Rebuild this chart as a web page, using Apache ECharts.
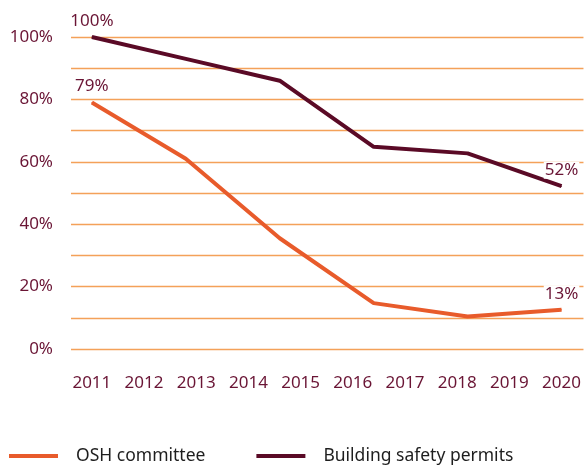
<!DOCTYPE html>
<html>
<head>
<meta charset="utf-8">
<script src="https://cdn.jsdelivr.net/npm/echarts@6/dist/echarts.min.js"></script>
<style>html,body{margin:0;padding:0;background:#fff}#c{width:584px;height:475px}</style>
</head>
<body>
<div id="c"></div>
<script>
const yearLabels = [2011, 2012, 2013, 2014, 2015, 2016, 2017, 2018, 2019, 2020];
const pointYears = [2011, 2012.8, 2014.6, 2016.4, 2018.2, 2020];
const oshCommittee = [79, 61, 35.5, 14.7, 10.4, 12.6];
const buildingPermits = [100, 93, 86, 64.8, 62.7, 52.2];
const yTickLabels = [0, 20, 40, 60, 80, 100];
const seriesNames = ['OSH committee', 'Building safety permits'];

const FONT = "'Noto Sans', sans-serif";
const MAROON = '#6a1535';
const ORANGE = '#e85b2b';
const DARK = '#5a0a26';

function build(values) {
  return values.map((v, i) => {
    const item = { value: [pointYears[i], v] };
    if (i === 0 || i === values.length - 1) {
      item.label = { show: true };
    }
    return item;
  });
}

const labelCfg = {
  show: false,
  position: 'top',
  distance: 7,
  color: MAROON,
  fontFamily: FONT,
  fontSize: 17,
  backgroundColor: '#fff',
  padding: [0, 1],
  formatter: p => Math.round(p.value[1]) + '%'
};

const chart = echarts.init(document.getElementById('c'), null, { renderer: 'canvas' });
chart.setOption({
  animation: false,
  grid: { left: 71, right: 0, top: 37, bottom: 126, containLabel: false },
  xAxis: {
    type: 'value',
    min: 2010.6,
    max: 2020.42,
    axisLine: { show: false },
    axisTick: { show: false },
    splitLine: { show: false },
    axisLabel: {
      customValues: yearLabels,
      formatter: v => String(v),
      color: MAROON,
      fontFamily: FONT,
      fontSize: 17,
      margin: 26
    }
  },
  yAxis: {
    type: 'value',
    min: 0,
    max: 100,
    interval: 10,
    axisLine: { show: false },
    axisTick: { show: false },
    splitLine: { show: true, lineStyle: { color: '#f4a159', width: 1.3 } },
    axisLabel: {
      customValues: yTickLabels,
      formatter: v => v + '%',
      color: MAROON,
      fontFamily: FONT,
      fontSize: 17,
      margin: 18,
      padding: [5, 0, 0, 0]
    }
  },
  legend: {
    left: 9,
    top: 447,
    padding: 0,
    icon: 'rect',
    itemWidth: 49,
    itemHeight: 4,
    itemGap: 51,
    data: seriesNames,
    textStyle: { color: '#1e1e1e', fontFamily: FONT, fontSize: 17.5, padding: [0, 0, 0, 13] }
  },
  series: [
    {
      name: seriesNames[0],
      type: 'line',
      data: build(oshCommittee),
      symbol: 'circle',
      symbolSize: 1,
      lineStyle: { color: ORANGE, width: 4 },
      itemStyle: { color: ORANGE },
      label: labelCfg,
      z: 3
    },
    {
      name: seriesNames[1],
      type: 'line',
      data: build(buildingPermits),
      symbol: 'circle',
      symbolSize: 1,
      lineStyle: { color: DARK, width: 4 },
      itemStyle: { color: DARK },
      label: labelCfg,
      z: 4
    }
  ]
});
</script>
</body>
</html>
